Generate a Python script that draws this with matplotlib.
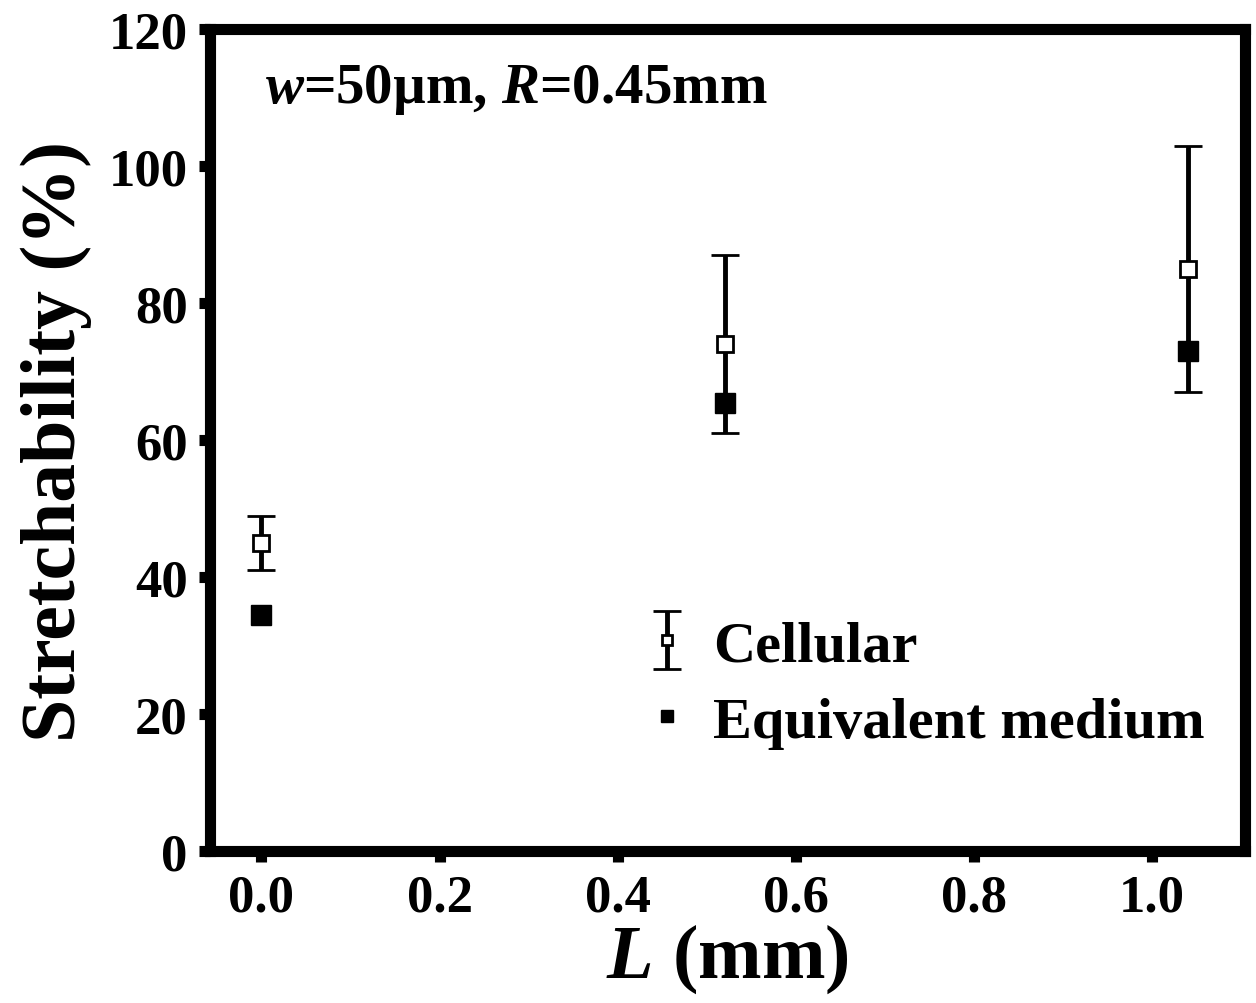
import matplotlib
matplotlib.use("Agg")
import matplotlib.pyplot as plt
from matplotlib.ticker import MultipleLocator

plt.rcParams['font.family'] = ['Liberation Serif', 'DejaVu Serif']
plt.rcParams['font.weight'] = 'bold'
plt.rcParams['mathtext.fontset'] = 'custom'
plt.rcParams['mathtext.rm'] = 'Liberation Serif:bold'
plt.rcParams['mathtext.it'] = 'Liberation Serif:italic:bold'

# data
L_mm = [0.0, 0.52, 1.04]
cellular = [45.0, 74.0, 85.0]
cellular_err = [4.0, 13.0, 18.0]
equivalent = [34.5, 65.5, 73.0]

fig = plt.figure(figsize=(12.56, 10.04), dpi=100)
ax = fig.add_axes([0.167, 0.151, 0.824, 0.819])

h_cell = ax.errorbar(L_mm, cellular, yerr=cellular_err, fmt='s', color='black',
                     mfc='white', mec='black', mew=2, ms=12, elinewidth=3.5,
                     capsize=10, capthick=4.5, label='Cellular', zorder=3)
h_eq, = ax.plot(L_mm, equivalent, 's', color='black', ms=15, linestyle='none',
                label='Equivalent medium', zorder=4)

ax.set_xlim(-0.058, 1.104)
ax.set_ylim(0, 120)
ax.xaxis.set_major_locator(MultipleLocator(0.2))
ax.xaxis.set_minor_locator(MultipleLocator(0.1))
ax.yaxis.set_major_locator(MultipleLocator(20))
ax.yaxis.set_minor_locator(MultipleLocator(10))
ax.xaxis.set_major_formatter(plt.FuncFormatter(lambda v, p: f"{v:.1f}"))

for s in ax.spines.values():
    s.set_linewidth(8)
ax.tick_params(which='major', direction='out', length=8, width=8,
               labelsize=38, pad=8)
ax.tick_params(which='minor', direction='out', length=3, width=8)

ax.set_xlabel(r'$L$ (mm)', fontsize=55, fontweight='bold', labelpad=0)
ax.set_ylabel('Stretchability (%)', fontsize=56, fontweight='bold', labelpad=12)

ax.text(0.053, 0.927, r'$w$=50µm, $R$=0.45mm', transform=ax.transAxes,
        fontsize=41, fontweight='bold', va='center', ha='left')

ax.legend(handles=[h_cell, h_eq], loc='upper left', bbox_to_anchor=(0.402, 0.31),
          frameon=False, fontsize=42, markerscale=0.55, handlelength=0.6,
          handletextpad=0.5, labelspacing=0.4, borderaxespad=0)

fig.savefig('out.png', dpi=100)
